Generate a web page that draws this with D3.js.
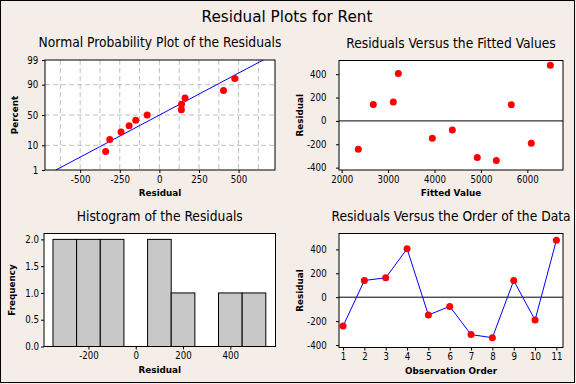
<!DOCTYPE html>
<html>
<head>
<meta charset="utf-8">
<script src="https://cdn.jsdelivr.net/npm/d3@7"></script>
<style>
  body { margin: 0; background: #f5ede7; }
  svg { display: block; }
  text { font-family: "DejaVu Sans Condensed", "DejaVu Sans", sans-serif; fill: #000; }
  .tick text { font-size: 9.6px; }
  .tick line { stroke: #000; }
  .domain { display: none; }
  .ptitle { font-size: 13.7px; }
  .atitle { font-family: "DejaVu Sans", sans-serif; font-size: 8.8px; font-weight: bold; }
  .mtitle { font-family: "DejaVu Sans", sans-serif; font-size: 15.2px; }
</style>
</head>
<body>
<svg id="chart" width="576" height="384"></svg>
<script>
// residuals in observation order, and the fitted values for the same rows
const observation = [1, 2, 3, 4, 5, 6, 7, 8, 9, 10, 11];
const residuals = [-242, 140, 162, 405, -149, -77, -313, -339, 139, -191, 476];
const fittedValues = [2358, 2681, 3112, 3220, 3953, 4384, 4922, 5332, 5655, 6086, 6496];

// tick labels / bins
const pctTicks = [1, 10, 50, 90, 99];
const pctGrid = [10, 50, 90];
const probXTicks = [-500, -250, 0, 250, 500];
const probXGrid = [-625, -500, -375, -250, -125, 0, 125, 250, 375, 500, 625];
const residTicks = [-400, -200, 0, 200, 400];
const fittedTicks = [2000, 3000, 4000, 5000, 6000];
const histEdges = [-350, -250, -150, -50, 50, 150, 250, 350, 450, 550];
const histXTicks = [-200, 0, 200, 400];
const freqTicks = [0, 0.5, 1, 1.5, 2];

// inverse normal cdf (Acklam)
function qnorm(p) {
  const a = [-39.69683028665376, 220.9460984245205, -275.9285104469687, 138.357751867269, -30.66479806614716, 2.506628277459239];
  const b = [-54.47609879822406, 161.5858368580409, -155.6989798598866, 66.80131188771972, -13.28068155288572];
  const c = [-0.007784894002430293, -0.3223964580411365, -2.400758277161838, -2.549732539343734, 4.374664141464968, 2.938163982698783];
  const d = [0.007784695709041462, 0.3224671290700398, 2.445134137142996, 3.754408661907416];
  const tail = (q) => (((((c[0]*q+c[1])*q+c[2])*q+c[3])*q+c[4])*q+c[5]) / ((((d[0]*q+d[1])*q+d[2])*q+d[3])*q+1);
  if (p < 0.02425) return tail(Math.sqrt(-2 * Math.log(p)));
  if (p > 1 - 0.02425) return -tail(Math.sqrt(-2 * Math.log(1 - p)));
  const q = p - 0.5, r = q * q;
  return (((((a[0]*r+a[1])*r+a[2])*r+a[3])*r+a[4])*r+a[5])*q / (((((b[0]*r+b[1])*r+b[2])*r+b[3])*r+b[4])*r+1);
}

const svg = d3.select("#chart");

svg.append("rect")
  .attr("x", 0.5).attr("y", 0.5)
  .attr("width", 574).attr("height", 382)
  .attr("fill", "#f5ede7").attr("stroke", "#000");

svg.append("text").attr("class", "mtitle")
  .attr("x", 287).attr("y", 22)
  .attr("text-anchor", "middle")
  .text("Residual Plots for Rent");

// draw the white plot box, titles; returns group
function panel(box, title, xLabel, yLabel, yLabelX) {
  const g = svg.append("g");
  g.append("rect")
    .attr("x", box.x0).attr("y", box.y0)
    .attr("width", box.x1 - box.x0).attr("height", box.y1 - box.y0)
    .attr("fill", "#fff");
  g.append("text").attr("class", "ptitle")
    .attr("x", (box.x0 + box.x1) / 2).attr("y", box.y0 - 12.7)
    .attr("text-anchor", "middle").text(title);
  g.append("text").attr("class", "atitle")
    .attr("x", (box.x0 + box.x1) / 2).attr("y", box.y1 + 26)
    .attr("text-anchor", "middle").text(xLabel);
  g.append("text").attr("class", "atitle")
    .attr("transform", `translate(${yLabelX},${(box.y0 + box.y1) / 2}) rotate(-90)`)
    .attr("dy", "0.35em")
    .attr("text-anchor", "middle").text(yLabel);
  return g;
}

function frame(g, box) {
  g.append("rect")
    .attr("x", box.x0).attr("y", box.y0)
    .attr("width", box.x1 - box.x0).attr("height", box.y1 - box.y0)
    .attr("fill", "none").attr("stroke", "#000");
}

function axes(g, box, x, y, xt, yt, yPad, xFmt, yFmt) {
  g.append("g")
    .attr("transform", `translate(0,${box.y1})`)
    .call(d3.axisBottom(x).tickValues(xt).tickSize(3).tickPadding(3).tickFormat(xFmt || d3.format("d")));
  g.append("g")
    .attr("transform", `translate(${box.x0},0)`)
    .call(d3.axisLeft(y).tickValues(yt).tickSize(3).tickPadding(yPad).tickFormat(yFmt || d3.format("d")));
  g.selectAll(".tick text").text(function () { return this.textContent.replace("−", "-"); });
}

// ---- Normal probability plot
{
  const box = { x0: 45, x1: 275, y0: 60, y1: 170 };
  const g = panel(box, "Normal Probability Plot of the Residuals", "Residual", "Percent", 15);
  const x = d3.scaleLinear().domain([-722, 730]).range([box.x0, box.x1]);
  const y = d3.scaleLinear().domain([qnorm(0.01), qnorm(0.99)]).range([box.y1, box.y0]);

  const grid = g.append("g").attr("stroke", "#c0c0c0").attr("stroke-dasharray", "5,3");
  grid.selectAll(".vg").data(probXGrid).join("line")
    .attr("x1", (d) => x(d)).attr("x2", (d) => x(d))
    .attr("y1", box.y0).attr("y2", box.y1);
  grid.selectAll(".hg").data(pctGrid).join("line")
    .attr("class", "hg")
    .attr("x1", box.x0).attr("x2", box.x1)
    .attr("y1", (d) => y(qnorm(d / 100))).attr("y2", (d) => y(qnorm(d / 100)));

  const mean = d3.mean(residuals);
  const sd = d3.deviation(residuals);
  const zLo = qnorm(0.01), zHi = qnorm(0.99);
  g.append("line")
    .attr("x1", x(mean + sd * zLo)).attr("y1", y(zLo))
    .attr("x2", x(mean + sd * zHi)).attr("y2", y(zHi))
    .attr("stroke", "#0000ff");

  const sorted = residuals.slice().sort(d3.ascending);
  const n = sorted.length;
  g.selectAll(".pt").data(sorted).join("circle")
    .attr("cx", (d) => x(d))
    .attr("cy", (d, i) => y(qnorm((i + 1 - 0.3) / (n + 0.4))))
    .attr("r", 3.5).attr("fill", "#ff0000");

  frame(g, box);
  axes(g, box, x, y, probXTicks, pctTicks.map((p) => qnorm(p / 100)), 3.7, null,
    (d, i) => pctTicks[i]);
}

// ---- Residuals vs fitted
{
  const box = { x0: 339, x1: 563, y0: 60.5, y1: 170 };
  const g = panel(box, "Residuals Versus the Fitted Values", "Fitted Value", "Residual", 300);
  const x = d3.scaleLinear().domain([1942, 6769]).range([box.x0, box.x1]);
  const y = d3.scaleLinear().domain([-420, 517]).range([box.y1, box.y0]);
  g.append("line")
    .attr("x1", box.x0).attr("x2", box.x1)
    .attr("y1", y(0)).attr("y2", y(0)).attr("stroke", "#000");
  g.selectAll(".pt").data(fittedValues).join("circle")
    .attr("cx", (d) => x(d))
    .attr("cy", (d, i) => y(residuals[i]))
    .attr("r", 3.5).attr("fill", "#ff0000");
  frame(g, box);
  axes(g, box, x, y, fittedTicks, residTicks, 9.5);
}

// ---- Histogram
{
  const box = { x0: 44, x1: 275.5, y0: 233.5, y1: 346.5 };
  const g = panel(box, "Histogram of the Residuals", "Residual", "Frequency", 12);
  const x = d3.scaleLinear().domain([-388, 591]).range([box.x0, box.x1]);
  const y = d3.scaleLinear().domain([0, 2.11]).range([box.y1, box.y0]);
  const bins = d3.bin().domain([histEdges[0], histEdges[histEdges.length - 1]]).thresholds(histEdges)(residuals);
  g.selectAll(".bar").data(bins).join("rect")
    .attr("x", (d) => x(d.x0)).attr("width", (d) => x(d.x1) - x(d.x0))
    .attr("y", (d) => y(d.length)).attr("height", (d) => y(0) - y(d.length))
    .attr("fill", "#c8c8c8").attr("stroke", "#000");
  frame(g, box);
  axes(g, box, x, y, histXTicks, freqTicks, 2, null, d3.format(".1f"));
}

// ---- Residuals vs order
{
  const box = { x0: 339, x1: 563, y0: 233.5, y1: 347.5 };
  const g = panel(box, "Residuals Versus the Order of the Data", "Observation Order", "Residual", 300);
  const x = d3.scaleLinear().domain([0.81, 11.31]).range([box.x0, box.x1]);
  const y = d3.scaleLinear().domain([-421, 533]).range([box.y1, box.y0]);
  g.append("line")
    .attr("x1", box.x0).attr("x2", box.x1)
    .attr("y1", y(0)).attr("y2", y(0)).attr("stroke", "#000");
  g.append("path")
    .datum(residuals)
    .attr("fill", "none").attr("stroke", "#0000ff")
    .attr("d", d3.line().x((d, i) => x(observation[i])).y((d) => y(d)));
  g.selectAll(".pt").data(residuals).join("circle")
    .attr("cx", (d, i) => x(observation[i]))
    .attr("cy", (d) => y(d))
    .attr("r", 3.5).attr("fill", "#ff0000");
  frame(g, box);
  axes(g, box, x, y, observation, residTicks, 9.3);
}
</script>
</body>
</html>
